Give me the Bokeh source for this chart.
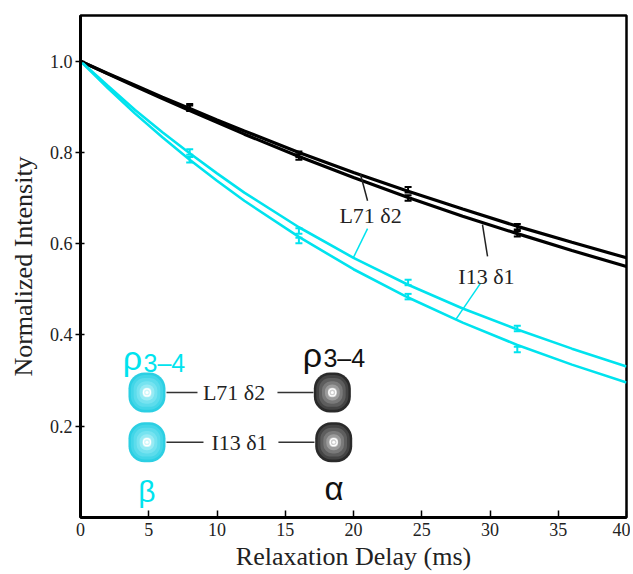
import numpy as np
from bokeh.plotting import figure
from bokeh.models import Range1d, FixedTicker, PrintfTickFormatter, Whisker, TeeHead, ColumnDataSource
from bokeh.core.properties import value
from bokeh.embed import file_html
from bokeh.resources import INLINE

# ---------------- data ----------------
curve_delay = [0, 2, 4, 6, 8, 10, 12, 16, 20, 24, 28, 32, 36, 40]
l71_black_fit = [1.000, 0.973, 0.947, 0.921, 0.896, 0.871, 0.847, 0.800, 0.756, 0.715, 0.676, 0.638, 0.603, 0.569]
i13_black_fit = [1.000, 0.972, 0.945, 0.918, 0.892, 0.866, 0.840, 0.791, 0.745, 0.701, 0.660, 0.622, 0.585, 0.550]
l71_cyan_fit = [1.000, 0.946, 0.893, 0.844, 0.798, 0.754, 0.712, 0.636, 0.569, 0.510, 0.458, 0.412, 0.370, 0.331]
i13_cyan_fit = [1.000, 0.941, 0.885, 0.833, 0.784, 0.738, 0.694, 0.615, 0.544, 0.482, 0.427, 0.378, 0.335, 0.296]

pt_delay = [8, 16, 24, 32]
l71_black_pts = [0.900, 0.796, 0.718, 0.637]
i13_black_pts = [0.897, 0.790, 0.700, 0.622]
l71_cyan_pts = [0.801, 0.628, 0.515, 0.414]
i13_cyan_pts = [0.784, 0.607, 0.484, 0.368]
pt_err = 0.006

x_ticks = [0, 5, 10, 15, 20, 25, 30, 35, 40]
y_ticks = [0.2, 0.4, 0.6, 0.8, 1.0]

# annotation positions
curve_labels = ["L71 δ2", "I13 δ1"]
curve_label_x = [21.25, 29.74]
curve_label_y = [0.662, 0.528]
black_ptr_x0 = [20.51, 29.45]
black_ptr_y0 = [0.752, 0.642]
black_ptr_x1 = [21.03, 29.82]
black_ptr_y1 = [0.694, 0.572]
cyan_ptr_x0 = [21.03, 29.30]
cyan_ptr_y0 = [0.633, 0.513]
cyan_ptr_x1 = [20.00, 27.50]
cyan_ptr_y1 = [0.570, 0.434]

inset_rows_y = [0.274, 0.165]
inset_text_x = [11.25, 11.65]
cyan_blob_x = [4.87, 4.87]
gray_blob_x = [18.45, 18.55]
conn_left_x0 = [6.30, 6.30]
conn_left_x1 = [8.57, 9.01]
conn_right_x0 = [14.43, 14.50]
conn_right_x1 = [17.07, 17.14]

CYAN = "#00E3EE"
SERIF = "Liberation Serif"
SANS = "Liberation Sans"

p = figure(width=630, height=573, x_range=Range1d(0, 40), y_range=Range1d(0, 1.1),
           output_backend="svg", toolbar_location=None,
           min_border_left=80, min_border_right=4, min_border_top=15, min_border_bottom=56)
p.background_fill_color = "white"
p.border_fill_color = "white"
p.xgrid.visible = False
p.ygrid.visible = False
p.outline_line_color = "black"
p.outline_line_width = 2.5

p.xaxis.ticker = FixedTicker(ticks=x_ticks)
p.yaxis.ticker = FixedTicker(ticks=y_ticks)
p.yaxis.formatter = PrintfTickFormatter(format="%.1f")
for ax in (p.xaxis, p.yaxis):
    ax.axis_line_width = 3
    ax.axis_line_color = "black"
    ax.major_tick_line_color = "black"
    ax.major_tick_line_width = 1.5
    ax.minor_tick_line_color = None
    ax.major_label_text_font = SERIF
    ax.major_label_text_font_size = "18px"
    ax.major_label_text_color = "#222222"
    ax.axis_label_text_font = SERIF
    ax.axis_label_text_font_size = "26px"
    ax.axis_label_text_font_style = "normal"
    ax.axis_label_text_color = "#222222"
p.xaxis.major_tick_in = 7
p.xaxis.major_tick_out = 0
p.xaxis.major_label_standoff = 5
p.xaxis.axis_label = "Relaxation Delay (ms)"
p.xaxis.axis_label_standoff = 3
p.yaxis.major_tick_in = 4
p.yaxis.major_tick_out = 5
p.yaxis.major_label_standoff = 3
p.yaxis.axis_label = "Normalized Intensity"
p.yaxis.axis_label_standoff = 9

# fit curves
p.line(curve_delay, l71_black_fit, line_color="black", line_width=3.2)
p.line(curve_delay, i13_black_fit, line_color="black", line_width=3.2)
p.line(curve_delay, l71_cyan_fit, line_color=CYAN, line_width=2.6)
p.line(curve_delay, i13_cyan_fit, line_color=CYAN, line_width=2.6)

# error bars
for pts, col in ((l71_black_pts, "black"), (i13_black_pts, "black"),
                 (l71_cyan_pts, CYAN), (i13_cyan_pts, CYAN)):
    arr = np.array(pts)
    src = ColumnDataSource(dict(x=pt_delay, lo=arr - pt_err, hi=arr + pt_err))
    w = Whisker(source=src, base="x", lower="lo", upper="hi", dimension="height",
                line_color=col, line_width=2,
                lower_head=TeeHead(size=7, line_color=col, line_width=2),
                upper_head=TeeHead(size=7, line_color=col, line_width=2))
    p.add_layout(w)

# pointer lines and labels
p.segment(black_ptr_x0, black_ptr_y0, black_ptr_x1, black_ptr_y1, line_color="#222222", line_width=1.5)
p.segment(cyan_ptr_x0, cyan_ptr_y0, cyan_ptr_x1, cyan_ptr_y1, line_color=CYAN, line_width=1.5)
p.text(curve_label_x, curve_label_y, text=curve_labels, text_font=value(SERIF),
       text_font_size="22px", text_align="center", text_baseline="middle", text_color="#222222")

# inset: connection lines
p.segment(conn_left_x0, inset_rows_y, conn_left_x1, inset_rows_y, line_color="#333333", line_width=1.5)
p.segment(conn_right_x0, inset_rows_y, conn_right_x1, inset_rows_y, line_color="#333333", line_width=1.5)
p.text(inset_text_x, inset_rows_y, text=curve_labels, text_font=value(SERIF),
       text_font_size="22px", text_align="center", text_baseline="middle", text_color="#222222")

# inset: peaks
px_x = 546 / 40.0
px_y = 502 / 1.1
blob_w = 37 / px_x
blob_h = 40 / px_y
scales = [1.0, 0.87, 0.72, 0.56, 0.40, 0.24]
cyan_cols = ["#2CCFE3", "#43D6E8", "#5CDCEC", "#76E3F0", "#98EBF4", "#CFF7FA"]
gray_cols = ["#2A2A2A", "#444444", "#5E5E5E", "#7A7A7A", "#9C9C9C", "#CFCFCF"]
ry = np.array(inset_rows_y)
for bx, cols in ((cyan_blob_x, cyan_cols), (gray_blob_x, gray_cols)):
    bx = np.array(bx)
    for s, c in zip(scales, cols):
        p.quad(left=bx - blob_w * s / 2, right=bx + blob_w * s / 2,
               bottom=ry - blob_h * s / 2, top=ry + blob_h * s / 2,
               fill_color=c, line_color=None, border_radius=int(15 * s) + 1)
    p.scatter(bx, ry, size=7, marker="circle", fill_color=None, line_color="white", line_width=1.3)
    p.scatter(bx, ry, size=3, marker="circle", fill_color="white", line_color=None)

# inset: greek labels
p.text([3.10], [0.349], text=["ρ"], text_font=value(SANS), text_font_size="34px",
       text_align="left", text_baseline="alphabetic", text_color=CYAN)
p.text([4.62], [0.338], text=["3–4"], text_font=value(SANS), text_font_size="25px",
       text_align="left", text_baseline="alphabetic", text_color=CYAN)
p.text([16.29], [0.357], text=["ρ"], text_font=value(SANS), text_font_size="34px",
       text_align="left", text_baseline="alphabetic", text_color="#111111")
p.text([17.80], [0.349], text=["3–4"], text_font=value(SANS), text_font_size="25px",
       text_align="left", text_baseline="alphabetic", text_color="#111111")
p.text([4.87], [0.056], text=["β"], text_font=value(SANS), text_font_size="30px",
       text_align="center", text_baseline="alphabetic", text_color=CYAN)
p.text([18.57], [0.064], text=["α"], text_font=value(SANS), text_font_size="33px",
       text_align="center", text_baseline="alphabetic", text_color="#111111")

open("out.html", "w").write(file_html(p, INLINE))
